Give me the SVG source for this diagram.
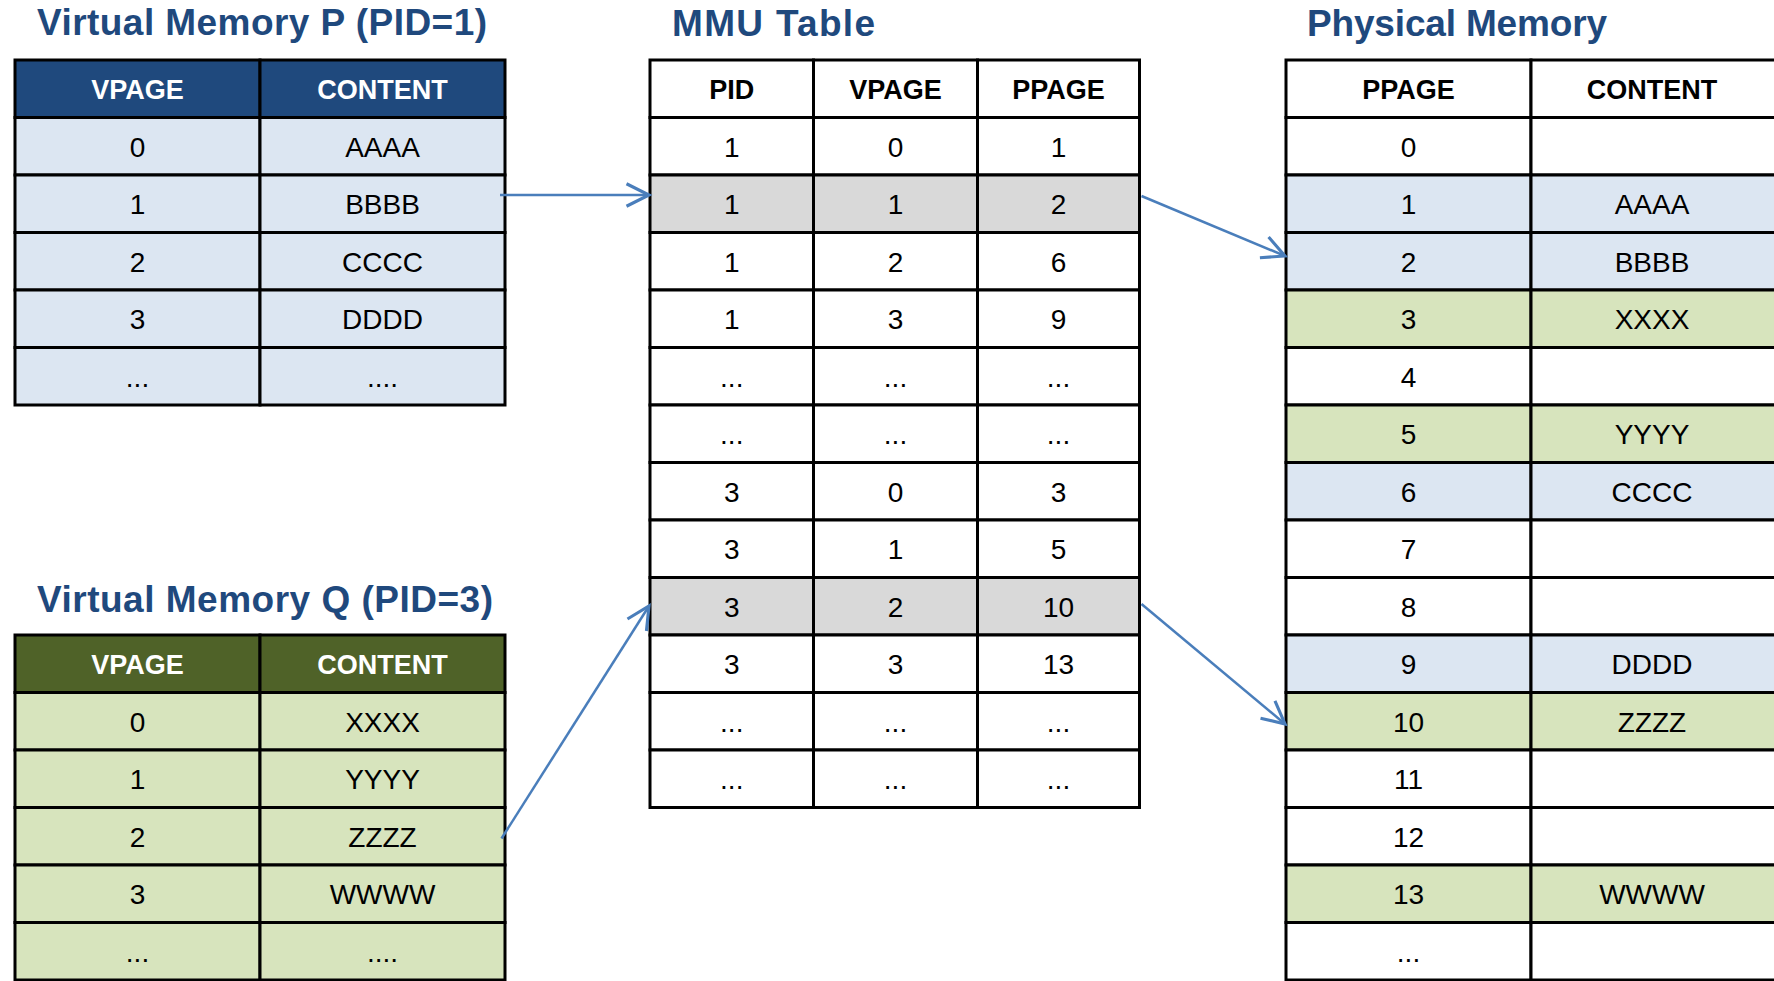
<svg xmlns="http://www.w3.org/2000/svg" width="1774" height="981" viewBox="0 0 1774 981">
  <style>
    .title { font-family: "Liberation Sans", Arial, sans-serif; font-weight: bold; font-size: 37px; fill: #1F497D; }
    .cell { stroke: #000; stroke-width: 3; }
    .w { fill: #FFFFFF; }
    .b { fill: #DCE6F2; }
    .g { fill: #D7E4BD; }
    .gr { fill: #D9D9D9; }
    .hb { fill: #1F497D; }
    .hg { fill: #4F6228; }
    .th { font-family: "Liberation Sans", Arial, sans-serif; font-weight: bold; font-size: 27px; text-anchor: middle; fill: #000; }
    .thw { fill: #FFFFFF; }
    .td { font-family: "Liberation Sans", Arial, sans-serif; font-size: 28px; text-anchor: middle; fill: #000; }
    .conn { fill: none; stroke: #4A7EBB; stroke-width: 2.5; }
  </style>
  <defs>
    <marker id="open-arrow" markerUnits="userSpaceOnUse" orient="auto" markerWidth="30" markerHeight="30" refX="0" refY="0" viewBox="-20 -12 24 24" overflow="visible">
      <path d="M -18 -9 L 0 0 L -18 9" fill="none" stroke="#4A7EBB" stroke-width="2.5"/>
    </marker>
  </defs>
  <rect width="1774" height="981" fill="#FFFFFF"/>

  <!-- Virtual memory of process P -->
  <g id="vm-p">
    <text class="title" x="37" y="35" textLength="450" lengthAdjust="spacing">Virtual Memory P (PID=1)</text>
    <rect class="cell hb" x="15" y="60" width="245" height="57.5"/><rect class="cell hb" x="260" y="60" width="245" height="57.5"/>
    <text class="th thw" x="137.5" y="99">VPAGE</text><text class="th thw" x="382.5" y="99">CONTENT</text>
    <rect class="cell b" x="15" y="117.5" width="245" height="57.5"/><rect class="cell b" x="260" y="117.5" width="245" height="57.5"/>
    <text class="td" x="137.5" y="156.5">0</text><text class="td" x="382.5" y="156.5">AAAA</text>
    <rect class="cell b" x="15" y="175" width="245" height="57.5"/><rect class="cell b" x="260" y="175" width="245" height="57.5"/>
    <text class="td" x="137.5" y="214">1</text><text class="td" x="382.5" y="214">BBBB</text>
    <rect class="cell b" x="15" y="232.5" width="245" height="57.5"/><rect class="cell b" x="260" y="232.5" width="245" height="57.5"/>
    <text class="td" x="137.5" y="271.5">2</text><text class="td" x="382.5" y="271.5">CCCC</text>
    <rect class="cell b" x="15" y="290" width="245" height="57.5"/><rect class="cell b" x="260" y="290" width="245" height="57.5"/>
    <text class="td" x="137.5" y="329">3</text><text class="td" x="382.5" y="329">DDDD</text>
    <rect class="cell b" x="15" y="347.5" width="245" height="57.5"/><rect class="cell b" x="260" y="347.5" width="245" height="57.5"/>
    <text class="td" x="137.5" y="386.5">...</text><text class="td" x="382.5" y="386.5">....</text>
  </g>

  <!-- Virtual memory of process Q -->
  <g id="vm-q">
    <text class="title" x="37" y="612" textLength="456" lengthAdjust="spacing">Virtual Memory Q (PID=3)</text>
    <rect class="cell hg" x="15" y="635" width="245" height="57.5"/><rect class="cell hg" x="260" y="635" width="245" height="57.5"/>
    <text class="th thw" x="137.5" y="674">VPAGE</text><text class="th thw" x="382.5" y="674">CONTENT</text>
    <rect class="cell g" x="15" y="692.5" width="245" height="57.5"/><rect class="cell g" x="260" y="692.5" width="245" height="57.5"/>
    <text class="td" x="137.5" y="731.5">0</text><text class="td" x="382.5" y="731.5">XXXX</text>
    <rect class="cell g" x="15" y="750" width="245" height="57.5"/><rect class="cell g" x="260" y="750" width="245" height="57.5"/>
    <text class="td" x="137.5" y="789">1</text><text class="td" x="382.5" y="789">YYYY</text>
    <rect class="cell g" x="15" y="807.5" width="245" height="57.5"/><rect class="cell g" x="260" y="807.5" width="245" height="57.5"/>
    <text class="td" x="137.5" y="846.5">2</text><text class="td" x="382.5" y="846.5">ZZZZ</text>
    <rect class="cell g" x="15" y="865" width="245" height="57.5"/><rect class="cell g" x="260" y="865" width="245" height="57.5"/>
    <text class="td" x="137.5" y="904">3</text><text class="td" x="382.5" y="904">WWWW</text>
    <rect class="cell g" x="15" y="922.5" width="245" height="57.5"/><rect class="cell g" x="260" y="922.5" width="245" height="57.5"/>
    <text class="td" x="137.5" y="961.5">...</text><text class="td" x="382.5" y="961.5">....</text>
  </g>

  <!-- MMU page table -->
  <g id="mmu">
    <text class="title" x="672" y="36" textLength="203" lengthAdjust="spacing">MMU Table</text>
    <g id="mmu-head">
      <rect class="cell w" x="650" y="60" width="163.5" height="57.5"/><rect class="cell w" x="813.5" y="60" width="164" height="57.5"/><rect class="cell w" x="977.5" y="60" width="162" height="57.5"/>
      <text class="th" x="731.75" y="99">PID</text><text class="th" x="895.5" y="99">VPAGE</text><text class="th" x="1058.5" y="99">PPAGE</text>
    </g>
    <g id="mmu-r0">
      <rect class="cell w" x="650" y="117.5" width="163.5" height="57.5"/><rect class="cell w" x="813.5" y="117.5" width="164" height="57.5"/><rect class="cell w" x="977.5" y="117.5" width="162" height="57.5"/>
      <text class="td" x="731.75" y="156.5">1</text><text class="td" x="895.5" y="156.5">0</text><text class="td" x="1058.5" y="156.5">1</text>
    </g>
    <g id="mmu-r1">
      <rect class="cell gr" x="650" y="175" width="163.5" height="57.5"/><rect class="cell gr" x="813.5" y="175" width="164" height="57.5"/><rect class="cell gr" x="977.5" y="175" width="162" height="57.5"/>
      <text class="td" x="731.75" y="214">1</text><text class="td" x="895.5" y="214">1</text><text class="td" x="1058.5" y="214">2</text>
    </g>
    <g id="mmu-r2">
      <rect class="cell w" x="650" y="232.5" width="163.5" height="57.5"/><rect class="cell w" x="813.5" y="232.5" width="164" height="57.5"/><rect class="cell w" x="977.5" y="232.5" width="162" height="57.5"/>
      <text class="td" x="731.75" y="271.5">1</text><text class="td" x="895.5" y="271.5">2</text><text class="td" x="1058.5" y="271.5">6</text>
    </g>
    <g id="mmu-r3">
      <rect class="cell w" x="650" y="290" width="163.5" height="57.5"/><rect class="cell w" x="813.5" y="290" width="164" height="57.5"/><rect class="cell w" x="977.5" y="290" width="162" height="57.5"/>
      <text class="td" x="731.75" y="329">1</text><text class="td" x="895.5" y="329">3</text><text class="td" x="1058.5" y="329">9</text>
    </g>
    <g id="mmu-r4">
      <rect class="cell w" x="650" y="347.5" width="163.5" height="57.5"/><rect class="cell w" x="813.5" y="347.5" width="164" height="57.5"/><rect class="cell w" x="977.5" y="347.5" width="162" height="57.5"/>
      <text class="td" x="731.75" y="386.5">...</text><text class="td" x="895.5" y="386.5">...</text><text class="td" x="1058.5" y="386.5">...</text>
    </g>
    <g id="mmu-r5">
      <rect class="cell w" x="650" y="405" width="163.5" height="57.5"/><rect class="cell w" x="813.5" y="405" width="164" height="57.5"/><rect class="cell w" x="977.5" y="405" width="162" height="57.5"/>
      <text class="td" x="731.75" y="444">...</text><text class="td" x="895.5" y="444">...</text><text class="td" x="1058.5" y="444">...</text>
    </g>
    <g id="mmu-r6">
      <rect class="cell w" x="650" y="462.5" width="163.5" height="57.5"/><rect class="cell w" x="813.5" y="462.5" width="164" height="57.5"/><rect class="cell w" x="977.5" y="462.5" width="162" height="57.5"/>
      <text class="td" x="731.75" y="501.5">3</text><text class="td" x="895.5" y="501.5">0</text><text class="td" x="1058.5" y="501.5">3</text>
    </g>
    <g id="mmu-r7">
      <rect class="cell w" x="650" y="520" width="163.5" height="57.5"/><rect class="cell w" x="813.5" y="520" width="164" height="57.5"/><rect class="cell w" x="977.5" y="520" width="162" height="57.5"/>
      <text class="td" x="731.75" y="559">3</text><text class="td" x="895.5" y="559">1</text><text class="td" x="1058.5" y="559">5</text>
    </g>
    <g id="mmu-r8">
      <rect class="cell gr" x="650" y="577.5" width="163.5" height="57.5"/><rect class="cell gr" x="813.5" y="577.5" width="164" height="57.5"/><rect class="cell gr" x="977.5" y="577.5" width="162" height="57.5"/>
      <text class="td" x="731.75" y="616.5">3</text><text class="td" x="895.5" y="616.5">2</text><text class="td" x="1058.5" y="616.5">10</text>
    </g>
    <g id="mmu-r9">
      <rect class="cell w" x="650" y="635" width="163.5" height="57.5"/><rect class="cell w" x="813.5" y="635" width="164" height="57.5"/><rect class="cell w" x="977.5" y="635" width="162" height="57.5"/>
      <text class="td" x="731.75" y="674">3</text><text class="td" x="895.5" y="674">3</text><text class="td" x="1058.5" y="674">13</text>
    </g>
    <g id="mmu-r10">
      <rect class="cell w" x="650" y="692.5" width="163.5" height="57.5"/><rect class="cell w" x="813.5" y="692.5" width="164" height="57.5"/><rect class="cell w" x="977.5" y="692.5" width="162" height="57.5"/>
      <text class="td" x="731.75" y="731.5">...</text><text class="td" x="895.5" y="731.5">...</text><text class="td" x="1058.5" y="731.5">...</text>
    </g>
    <g id="mmu-r11">
      <rect class="cell w" x="650" y="750" width="163.5" height="57.5"/><rect class="cell w" x="813.5" y="750" width="164" height="57.5"/><rect class="cell w" x="977.5" y="750" width="162" height="57.5"/>
      <text class="td" x="731.75" y="789">...</text><text class="td" x="895.5" y="789">...</text><text class="td" x="1058.5" y="789">...</text>
    </g>
  </g>

  <!-- Physical memory frames -->
  <g id="phys">
    <text class="title" x="1307" y="36" textLength="300" lengthAdjust="spacing">Physical Memory</text>
    <rect class="cell w" x="1286" y="60" width="245" height="57.5"/><rect class="cell w" x="1531" y="60" width="246" height="57.5"/>
    <text class="th" x="1408.5" y="99">PPAGE</text><text class="th" x="1652" y="99">CONTENT</text>
    <rect class="cell w" x="1286" y="117.5" width="245" height="57.5"/><rect class="cell w" x="1531" y="117.5" width="246" height="57.5"/>
    <text class="td" x="1408.5" y="156.5">0</text>
    <rect class="cell b" x="1286" y="175" width="245" height="57.5"/><rect class="cell b" x="1531" y="175" width="246" height="57.5"/>
    <text class="td" x="1408.5" y="214">1</text><text class="td" x="1652" y="214">AAAA</text>
    <rect class="cell b" x="1286" y="232.5" width="245" height="57.5"/><rect class="cell b" x="1531" y="232.5" width="246" height="57.5"/>
    <text class="td" x="1408.5" y="271.5">2</text><text class="td" x="1652" y="271.5">BBBB</text>
    <rect class="cell g" x="1286" y="290" width="245" height="57.5"/><rect class="cell g" x="1531" y="290" width="246" height="57.5"/>
    <text class="td" x="1408.5" y="329">3</text><text class="td" x="1652" y="329">XXXX</text>
    <rect class="cell w" x="1286" y="347.5" width="245" height="57.5"/><rect class="cell w" x="1531" y="347.5" width="246" height="57.5"/>
    <text class="td" x="1408.5" y="386.5">4</text>
    <rect class="cell g" x="1286" y="405" width="245" height="57.5"/><rect class="cell g" x="1531" y="405" width="246" height="57.5"/>
    <text class="td" x="1408.5" y="444">5</text><text class="td" x="1652" y="444">YYYY</text>
    <rect class="cell b" x="1286" y="462.5" width="245" height="57.5"/><rect class="cell b" x="1531" y="462.5" width="246" height="57.5"/>
    <text class="td" x="1408.5" y="501.5">6</text><text class="td" x="1652" y="501.5">CCCC</text>
    <rect class="cell w" x="1286" y="520" width="245" height="57.5"/><rect class="cell w" x="1531" y="520" width="246" height="57.5"/>
    <text class="td" x="1408.5" y="559">7</text>
    <rect class="cell w" x="1286" y="577.5" width="245" height="57.5"/><rect class="cell w" x="1531" y="577.5" width="246" height="57.5"/>
    <text class="td" x="1408.5" y="616.5">8</text>
    <rect class="cell b" x="1286" y="635" width="245" height="57.5"/><rect class="cell b" x="1531" y="635" width="246" height="57.5"/>
    <text class="td" x="1408.5" y="674">9</text><text class="td" x="1652" y="674">DDDD</text>
    <rect class="cell g" x="1286" y="692.5" width="245" height="57.5"/><rect class="cell g" x="1531" y="692.5" width="246" height="57.5"/>
    <text class="td" x="1408.5" y="731.5">10</text><text class="td" x="1652" y="731.5">ZZZZ</text>
    <rect class="cell w" x="1286" y="750" width="245" height="57.5"/><rect class="cell w" x="1531" y="750" width="246" height="57.5"/>
    <text class="td" x="1408.5" y="789">11</text>
    <rect class="cell w" x="1286" y="807.5" width="245" height="57.5"/><rect class="cell w" x="1531" y="807.5" width="246" height="57.5"/>
    <text class="td" x="1408.5" y="846.5">12</text>
    <rect class="cell g" x="1286" y="865" width="245" height="57.5"/><rect class="cell g" x="1531" y="865" width="246" height="57.5"/>
    <text class="td" x="1408.5" y="904">13</text><text class="td" x="1652" y="904">WWWW</text>
    <rect class="cell w" x="1286" y="922.5" width="245" height="57.5"/><rect class="cell w" x="1531" y="922.5" width="246" height="57.5"/>
    <text class="td" x="1408.5" y="961.5">...</text>
  </g>

  <!-- Translation arrows -->
  <g id="connectors">
    <line class="conn" x1="500" y1="195" x2="649" y2="195" marker-end="url(#open-arrow)"/>
    <line class="conn" x1="1141.5" y1="196" x2="1285" y2="256" marker-end="url(#open-arrow)"/>
    <line class="conn" x1="501.5" y1="838.5" x2="649" y2="606" marker-end="url(#open-arrow)"/>
    <line class="conn" x1="1141.5" y1="604" x2="1285" y2="724" marker-end="url(#open-arrow)"/>
  </g>
</svg>
